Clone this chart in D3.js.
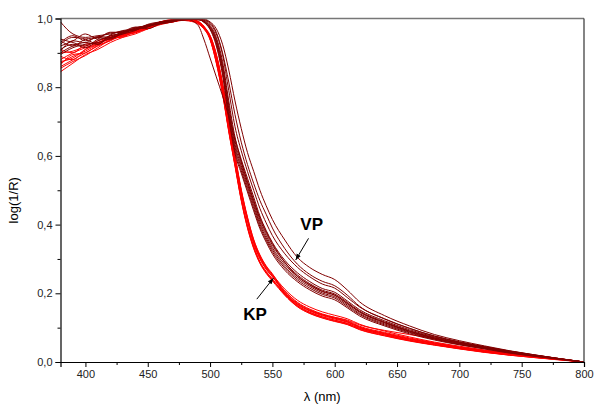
<!DOCTYPE html>
<html>
<head>
<meta charset="UTF-8">
<script src="https://d3js.org/d3.v7.min.js"></script>
<style>
  body { margin: 0; background: #fff; }
  text { font-family: Arial, "Liberation Sans", sans-serif; }
</style>
</head>
<body>
<svg id="chart" width="595" height="407"></svg>
<script>
// wavelength grid (nm)
const wavelengths = [380, 390, 400, 410, 420, 430, 440, 450, 460, 470, 480, 490, 495,
  500, 505, 510, 515, 520, 525, 530, 535, 540, 545, 550,
  560, 570, 580, 590, 600, 610, 620,
  640, 660, 680, 700, 720, 740, 760, 780, 800];

// KP samples (bright red)
const kpSeries = [
  [.845, .87, .895, .91, .93, .945, .955, .97, .985, .99, .997, .99, .975,
   .945, .885, .80, .69, .59, .49, .41, .345, .30, .27, .248,
   .205, .172, .152, .138, .128, .118, .102, .084, .068, .055, .043, .033, .024, .016, .008, 0],
  [.87, .89, .905, .925, .94, .948, .962, .975, .988, .993, .995, .988, .972,
   .95, .895, .81, .70, .60, .50, .42, .355, .31, .278, .255,
   .212, .18, .16, .146, .136, .126, .11, .09, .073, .058, .046, .035, .026, .017, .009, 0],
  [.90, .905, .92, .935, .945, .955, .965, .978, .99, .995, .997, .99, .978,
   .94, .875, .785, .675, .575, .475, .395, .335, .29, .262, .24,
   .198, .165, .145, .132, .122, .113, .098, .08, .064, .051, .04, .03, .021, .014, .007, 0],
  [.86, .88, .90, .92, .935, .952, .96, .97, .982, .99, .998, .992, .975,
   .948, .89, .805, .695, .595, .495, .415, .35, .305, .274, .252,
   .20, .168, .148, .135, .125, .116, .10, .082, .066, .053, .041, .031, .022, .015, .008, 0],
  [.88, .90, .915, .93, .94, .95, .968, .98, .99, .997, .996, .985, .97,
   .938, .87, .78, .67, .57, .47, .39, .33, .287, .258, .236,
   .194, .161, .141, .128, .118, .109, .094, .076, .061, .049, .038, .028, .02, .013, .006, 0],
  [.855, .875, .892, .915, .938, .95, .958, .972, .986, .992, .999, .993, .976,
   .946, .888, .802, .692, .592, .492, .412, .347, .302, .271, .249,
   .197, .164, .144, .131, .121, .112, .097, .079, .063, .05, .039, .029, .021, .014, .007, 0],
  [.91, .90, .925, .93, .948, .956, .963, .975, .984, .99, .995, .988, .973,
   .947, .892, .807, .697, .597, .497, .417, .352, .307, .276, .253,
   .207, .174, .154, .14, .13, .12, .104, .086, .07, .056, .044, .034, .025, .016, .008, 0],
  [.875, .885, .91, .928, .942, .946, .966, .977, .99, .996, .994, .986, .97,
   .942, .878, .788, .678, .578, .478, .398, .338, .292, .264, .242,
   .195, .162, .142, .129, .119, .11, .095, .077, .062, .05, .039, .029, .02, .013, .007, 0],
  [.865, .895, .90, .922, .936, .955, .96, .974, .985, .994, .998, .991, .977,
   .951, .897, .812, .703, .603, .503, .422, .357, .312, .28, .257,
   .202, .17, .15, .137, .127, .117, .101, .083, .067, .054, .042, .032, .023, .015, .008, 0],
  [.89, .88, .91, .925, .945, .952, .965, .97, .988, .993, .996, .989, .974,
   .94, .872, .782, .672, .572, .472, .392, .332, .289, .26, .238,
   .20, .168, .15, .138, .13, .122, .108, .092, .08, .068, .056, .044, .032, .02, .01, 0]
];

// VP samples (dark red)
const vpSeries = [
  [.99, .955, .945, .95, .955, .965, .97, .978, .99, .995, .998, .998, .998,
   .99, .97, .925, .85, .76, .68, .61, .555, .50, .455, .415,
   .355, .305, .275, .255, .24, .21, .175, .135, .105, .08, .062, .047, .033, .021, .01, 0],
  [.93, .95, .935, .945, .94, .96, .975, .97, .985, .992, .997, .998, .996,
   .988, .96, .90, .815, .72, .64, .575, .52, .47, .43, .39,
   .33, .285, .255, .235, .222, .195, .162, .125, .098, .075, .058, .044, .031, .02, .01, 0],
  [.90, .92, .93, .925, .95, .955, .965, .982, .985, .99, .999, .982, .94,
   .885, .83, .775, .715, .65, .585, .525, .47, .42, .38, .345,
   .29, .25, .225, .206, .195, .171, .146, .115, .09, .07, .054, .041, .029, .019, .009, 0],
  [.92, .935, .955, .94, .945, .962, .968, .975, .99, .995, .996, .999, .995,
   .985, .955, .895, .79, .685, .615, .555, .50, .447, .405, .368,
   .315, .276, .248, .227, .215, .188, .16, .126, .098, .076, .059, .045, .032, .021, .01, 0],
  [.91, .925, .915, .935, .95, .958, .972, .98, .988, .993, .998, .996, .993,
   .98, .945, .875, .76, .655, .59, .535, .48, .425, .383, .348,
   .296, .26, .234, .214, .203, .178, .152, .12, .094, .073, .057, .043, .031, .02, .01, 0],
  [.94, .93, .92, .94, .96, .96, .968, .976, .986, .996, .997, .998, .992,
   .977, .94, .865, .748, .643, .58, .525, .47, .415, .375, .34,
   .29, .254, .228, .209, .198, .174, .148, .117, .091, .071, .055, .042, .03, .019, .009, 0],
  [.895, .915, .925, .93, .942, .955, .97, .979, .984, .991, .998, .997, .991,
   .975, .935, .858, .738, .633, .572, .517, .462, .408, .368, .333,
   .284, .249, .224, .205, .194, .17, .145, .114, .089, .069, .054, .041, .029, .019, .009, 0],
  [.925, .945, .94, .925, .952, .963, .966, .983, .99, .994, .997, .999, .99,
   .972, .93, .85, .728, .624, .565, .51, .455, .401, .361, .327,
   .278, .244, .22, .201, .19, .166, .141, .111, .087, .067, .052, .04, .028, .018, .009, 0],
  [.905, .935, .93, .948, .945, .958, .974, .978, .987, .992, .999, .998, .99,
   .97, .925, .842, .718, .615, .557, .502, .447, .394, .355, .321,
   .273, .239, .215, .197, .186, .162, .138, .108, .085, .066, .051, .039, .027, .017, .008, 0],
  [.935, .92, .94, .945, .958, .96, .972, .98, .986, .993, .996, .998, .989,
   .968, .92, .835, .71, .607, .55, .495, .44, .388, .349, .315,
   .267, .234, .21, .192, .181, .158, .134, .105, .082, .064, .05, .038, .026, .017, .008, 0]
];

const xTicks = [400, 450, 500, 550, 600, 650, 700, 750, 800];
const xMinor = [425, 475, 525, 575, 625, 675, 725, 775];
const yTicks = [0, 0.2, 0.4, 0.6, 0.8, 1.0];
const yMinor = [0.1, 0.3, 0.5, 0.7, 0.9];

const margin = { top: 18.5, right: 11, bottom: 45, left: 60.5 };
const width = 595, height = 407;

const svg = d3.select("#chart");

const x = d3.scaleLinear().domain([380, 800]).range([margin.left, width - margin.right]);
const y = d3.scaleLinear().domain([0, 1]).range([height - margin.bottom, margin.top]);

svg.append("clipPath").attr("id", "clip")
  .append("rect")
  .attr("x", margin.left).attr("y", margin.top)
  .attr("width", width - margin.left - margin.right)
  .attr("height", height - margin.top - margin.bottom);

const line = d3.line()
  .x((d, i) => x(wavelengths[i]))
  .y(d => y(d))
  .curve(d3.curveMonotoneX);

const curves = svg.append("g").attr("clip-path", "url(#clip)");

curves.selectAll(".kp")
  .data(kpSeries)
  .enter().append("path")
  .attr("class", "kp")
  .attr("d", line)
  .attr("fill", "none")
  .attr("stroke", "#ff0000")
  .attr("stroke-width", 1);

curves.selectAll(".vp")
  .data(vpSeries)
  .enter().append("path")
  .attr("class", "vp")
  .attr("d", line)
  .attr("fill", "none")
  .attr("stroke", "#800000")
  .attr("stroke-width", 1);

// frame top / right
svg.append("line")
  .attr("x1", margin.left).attr("x2", width - margin.right)
  .attr("y1", margin.top).attr("y2", margin.top)
  .attr("stroke", "#777").attr("stroke-width", 1.5);
svg.append("line")
  .attr("x1", width - margin.right).attr("x2", width - margin.right)
  .attr("y1", margin.top).attr("y2", height - margin.bottom)
  .attr("stroke", "#333").attr("stroke-width", 1.2);

// bottom axis
const gx = svg.append("g")
  .attr("transform", `translate(0,${height - margin.bottom})`)
  .call(d3.axisBottom(x).tickValues(xTicks).tickSize(5).tickPadding(3));
gx.append("g")
  .call(d3.axisBottom(x).tickValues(xMinor).tickSize(3).tickFormat(""))
  .select(".domain").remove();

// left axis
const gy = svg.append("g")
  .attr("transform", `translate(${margin.left},0)`)
  .call(d3.axisLeft(y).tickValues(yTicks).tickSize(5).tickPadding(3)
    .tickFormat(d => d3.format(".1f")(d).replace(".", ",")));
gy.append("g")
  .call(d3.axisLeft(y).tickValues(yMinor).tickSize(3).tickFormat(""))
  .select(".domain").remove();

svg.selectAll(".domain").attr("stroke", "#000").attr("stroke-width", 1.2);
svg.selectAll(".tick line").attr("stroke", "#000");
svg.selectAll(".tick text").style("font-size", "11px").attr("fill", "#222");

// axis titles
svg.append("text")
  .attr("x", (margin.left + width - margin.right) / 2)
  .attr("y", 401)
  .attr("text-anchor", "middle")
  .style("font-size", "13px")
  .text("λ (nm)");

svg.append("text")
  .attr("transform", `translate(18,${(margin.top + height - margin.bottom) / 2 + 10}) rotate(-90)`)
  .attr("text-anchor", "middle")
  .style("font-size", "13px")
  .text("log(1/R)");

// annotations
svg.append("defs").append("marker")
  .attr("id", "arrow")
  .attr("viewBox", "0 0 10 10")
  .attr("refX", 10).attr("refY", 5)
  .attr("markerWidth", 6).attr("markerHeight", 6)
  .attr("orient", "auto")
  .append("path").attr("d", "M0,1 L10,5 L0,9 z").attr("fill", "#000");

svg.append("text")
  .attr("x", x(581.5)).attr("y", y(0.385))
  .attr("text-anchor", "middle")
  .style("font-size", "17px").style("font-weight", "bold")
  .text("VP");
svg.append("line")
  .attr("x1", x(579)).attr("y1", y(0.36))
  .attr("x2", x(568.7)).attr("y2", y(0.297))
  .attr("stroke", "#000").attr("stroke-width", 1)
  .attr("marker-end", "url(#arrow)");

svg.append("text")
  .attr("x", x(536)).attr("y", y(0.122))
  .attr("text-anchor", "middle")
  .style("font-size", "17px").style("font-weight", "bold")
  .text("KP");
svg.append("line")
  .attr("x1", x(537.5)).attr("y1", y(0.183))
  .attr("x2", x(550.8)).attr("y2", y(0.244))
  .attr("stroke", "#000").attr("stroke-width", 1)
  .attr("marker-end", "url(#arrow)");
</script>
</body>
</html>
